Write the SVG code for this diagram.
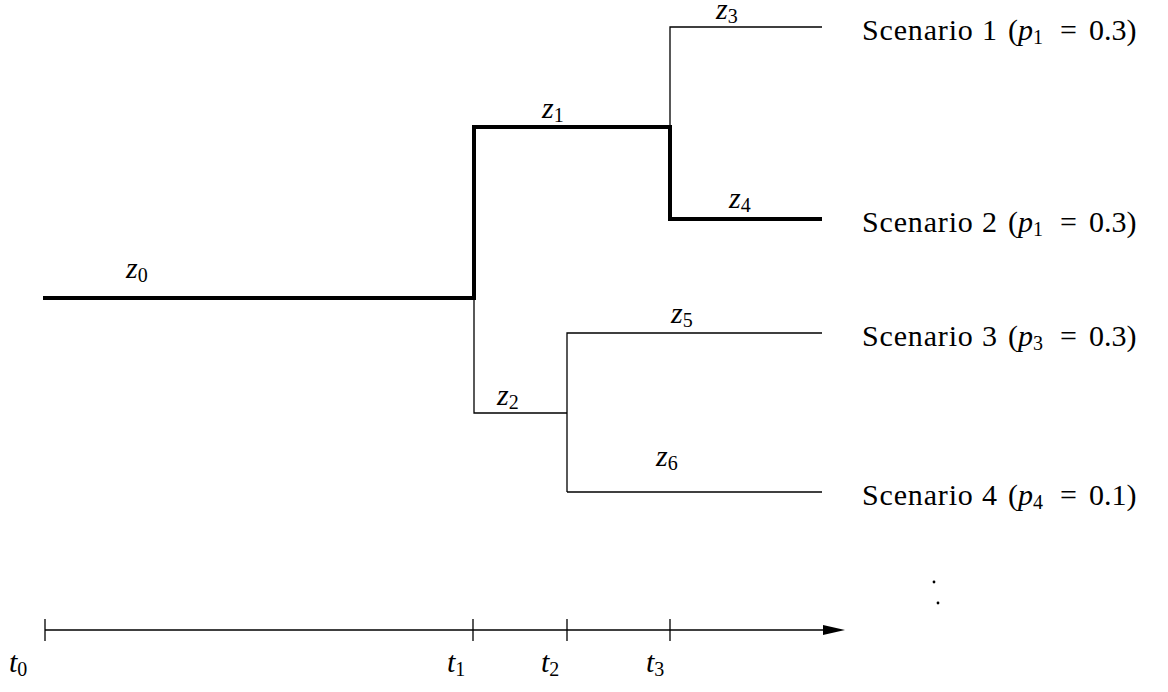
<svg xmlns="http://www.w3.org/2000/svg" width="1168" height="692" viewBox="0 0 1168 692">
<style>
.thick{stroke:#000;stroke-width:4;fill:none;stroke-linecap:square}
.thin{stroke:#000;stroke-width:1.3;fill:none}
.lbl{font-family:"Liberation Serif","Times New Roman",serif;font-size:30px;fill:#000}
.var{font-style:italic}
.sub{font-size:20px;font-style:normal}
</style>
<defs>
<marker id="arr" markerWidth="22" markerHeight="10" refX="0" refY="5" orient="auto" markerUnits="userSpaceOnUse" viewBox="0 0 22 10"><path d="M0,0 L22,5 L0,10 Z" fill="#000"/></marker>
</defs>
<rect width="1168" height="692" fill="#fff"/>
<g id="connectors">
<path class="thin" d="M474,298 V413 H567"/>
<path class="thin" d="M567,492 V333 H822"/>
<path class="thin" d="M567,492 H822"/>
<path class="thin" d="M670,127 V27 H822"/>
<path class="thick" d="M45,298 H474 V127 H670 V219 H820"/>
</g>
<g id="labels-edges" class="lbl">
<text id="z0" x="126" y="278" class="var">z<tspan class="sub" dy="4">0</tspan></text>
<text id="z1" x="542" y="118" class="var">z<tspan class="sub" dy="4">1</tspan></text>
<text id="z2" x="497" y="405" class="var">z<tspan class="sub" dy="4">2</tspan></text>
<text id="z3" x="716" y="19" class="var">z<tspan class="sub" dy="4">3</tspan></text>
<text id="z4" x="729" y="208" class="var">z<tspan class="sub" dy="4">4</tspan></text>
<text id="z5" x="671" y="323" class="var">z<tspan class="sub" dy="4">5</tspan></text>
<text id="z6" x="656" y="466" class="var">z<tspan class="sub" dy="4">6</tspan></text>
</g>
<g id="scenario1" class="lbl"><text x="862" y="40" textLength="135">Scenario 1</text><text x="1008" y="40">(<tspan class="var">p</tspan><tspan class="sub" dy="4">1</tspan></text><text x="1060" y="40">=</text><text x="1089" y="40">0.3)</text></g>
<g id="scenario2" class="lbl"><text x="862" y="232" textLength="135">Scenario 2</text><text x="1008" y="232">(<tspan class="var">p</tspan><tspan class="sub" dy="4">1</tspan></text><text x="1060" y="232">=</text><text x="1089" y="232">0.3)</text></g>
<g id="scenario3" class="lbl"><text x="862" y="346" textLength="135">Scenario 3</text><text x="1008" y="346">(<tspan class="var">p</tspan><tspan class="sub" dy="4">3</tspan></text><text x="1060" y="346">=</text><text x="1089" y="346">0.3)</text></g>
<g id="scenario4" class="lbl"><text x="862" y="505" textLength="135">Scenario 4</text><text x="1008" y="505">(<tspan class="var">p</tspan><tspan class="sub" dy="4">4</tspan></text><text x="1060" y="505">=</text><text x="1089" y="505">0.1)</text></g>
<g id="dots"><circle cx="934" cy="582" r="1.4" fill="#000"/><circle cx="938" cy="603" r="1.4" fill="#000"/></g>
<g id="axis">
<line class="thin" x1="45" y1="630" x2="823" y2="630" marker-end="url(#arr)"/>
<path class="thin" d="M45,619 V641 M473,619 V641 M567,619 V641 M670,619 V641"/>
</g>
<g id="ticks" class="lbl">
<text x="9" y="672" class="var">t<tspan class="sub" dy="4">0</tspan></text>
<text x="447" y="672" class="var">t<tspan class="sub" dy="4">1</tspan></text>
<text x="541" y="672" class="var">t<tspan class="sub" dy="4">2</tspan></text>
<text x="646" y="672" class="var">t<tspan class="sub" dy="4">3</tspan></text>
</g>
</svg>
